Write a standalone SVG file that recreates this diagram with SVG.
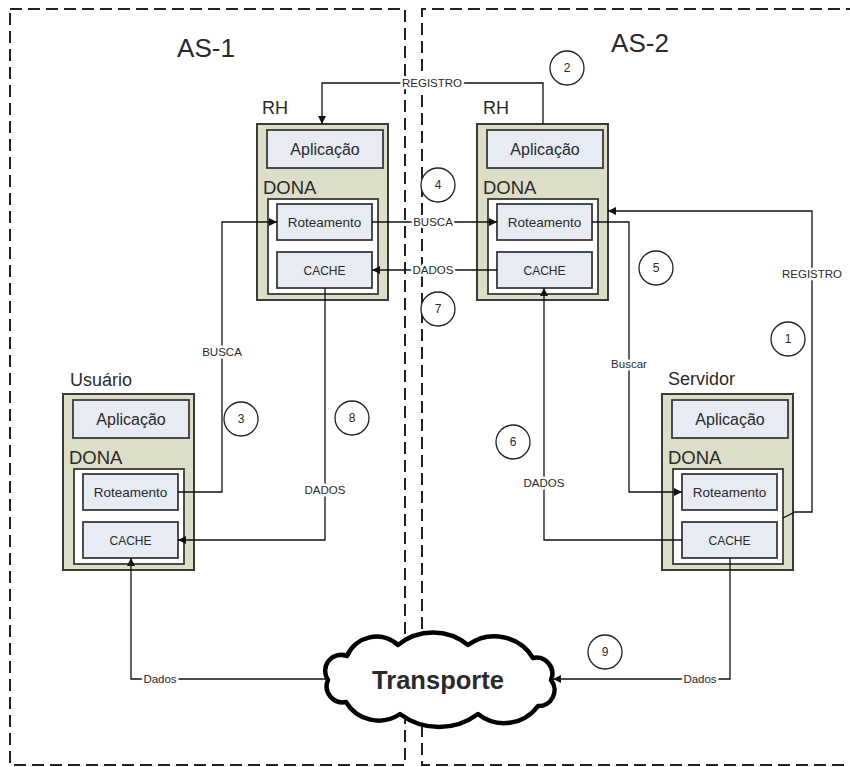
<svg xmlns="http://www.w3.org/2000/svg" width="850" height="767" viewBox="0 0 850 767">
  <defs>
    <marker id="arrow" viewBox="0 0 10 10" refX="10" refY="5" markerWidth="9" markerHeight="8" markerUnits="userSpaceOnUse" orient="auto">
      <path d="M0,0 L10,5 L0,10 z" fill="#111"/>
    </marker>
    <!-- reusable host stack: Aplicação + DONA (Roteamento, CACHE) -->
    <g id="host">
      <rect class="outer" x="0" y="0" width="131" height="176"/>
      <rect class="box" x="10" y="6" width="116" height="38"/>
      <text class="app" x="68" y="30.5">Aplicação</text>
      <text class="dona" x="6" y="70">DONA</text>
      <rect class="inner" x="11" y="75" width="110" height="95"/>
      <rect class="box" x="20" y="80" width="95" height="36"/>
      <text class="rot" x="67.5" y="102.5">Roteamento</text>
      <rect class="box" x="20" y="128" width="95" height="36"/>
      <text class="cache" x="67.5" y="150.5">CACHE</text>
    </g>
  </defs>
  <style>
    text { font-family: "Liberation Sans", Arial, sans-serif; fill: #2a2a2a; }
    .outer { fill: #dcdec8; stroke: #3a3a3a; stroke-width: 2; }
    .inner { fill: #ffffff; stroke: #3a3a3a; stroke-width: 1.8; }
    .box { fill: #e6ebf4; stroke: #3a3a3a; stroke-width: 1.8; }
    .app { font-size: 16px; text-anchor: middle; }
    .dona { font-size: 18.5px; }
    .rot { font-size: 13.5px; text-anchor: middle; }
    .cache { font-size: 12px; text-anchor: middle; }
    .name { font-size: 18px; }
    .as { font-size: 26px; text-anchor: middle; }
    .zone { fill: none; stroke: #222; stroke-width: 2; stroke-dasharray: 12 6; }
    .wire { fill: none; stroke: #111; stroke-width: 1.3; }
    .lbl { font-size: 11.5px; text-anchor: middle; dominant-baseline: central; stroke: #fff; stroke-width: 5; paint-order: stroke; stroke-linejoin: round; }
    .step circle { fill: #fff; stroke: #222; stroke-width: 1.3; }
    .step text { font-size: 12px; text-anchor: middle; dominant-baseline: central; }
  </style>

  <rect width="850" height="767" fill="#fff"/>

  <!-- autonomous systems -->
  <g id="zones">
    <rect class="zone" x="10" y="9" width="395" height="756"/>
    <path class="zone" d="M858 9 H422 V765 H858"/>
    <text class="as" x="206" y="57">AS-1</text>
    <text class="as" x="640" y="52">AS-2</text>
  </g>

  <!-- nodes -->
  <g id="rh-as1">
    <text class="name" x="262" y="114">RH</text>
    <use href="#host" x="257" y="124"/>
  </g>
  <g id="rh-as2">
    <text class="name" x="483" y="114">RH</text>
    <use href="#host" x="477" y="124"/>
  </g>
  <g id="usuario">
    <text class="name" x="70" y="386">Usuário</text>
    <use href="#host" x="63" y="394"/>
  </g>
  <g id="servidor">
    <text class="name" x="668" y="385">Servidor</text>
    <use href="#host" x="662" y="394"/>
  </g>

  <g id="transporte">
    <path d="M328 680 A16 16 0 0 1 347 656 A32 32 0 0 1 398 645 A55 55 0 0 1 468 645 A45 45 0 0 1 533 658 A16 16 0 0 1 551 680 A16 16 0 0 1 538 706 A42 42 0 0 1 478 714 A65 65 0 0 1 400 714 A38 38 0 0 1 346 702 A16 16 0 0 1 328 680 Z" fill="#fff" stroke="#000" stroke-width="4.5" stroke-linejoin="round"/>
    <text x="438" y="689" font-size="25.5" font-weight="bold" text-anchor="middle" fill="#111">Transporte</text>
  </g>

  <!-- connectors -->
  <g id="connectors">
    <path class="wire" d="M543 124 V83 H322 V124" marker-end="url(#arrow)"/>
    <text class="lbl" x="432" y="83">REGISTRO</text>

    <path class="wire" d="M372 222 H497" marker-end="url(#arrow)"/>
    <text class="lbl" x="433" y="222">BUSCA</text>

    <path class="wire" d="M497 270 H372" marker-end="url(#arrow)"/>
    <text class="lbl" x="433" y="270">DADOS</text>

    <path class="wire" d="M783 518 L795 512 H812 V211 H608" marker-end="url(#arrow)"/>
    <text class="lbl" x="812" y="274">REGISTRO</text>

    <path class="wire" d="M592 222 H629 V492 H682" marker-end="url(#arrow)"/>
    <text class="lbl" x="629" y="364">Buscar</text>

    <path class="wire" d="M682 540 H544 V288" marker-end="url(#arrow)"/>
    <text class="lbl" x="544" y="483">DADOS</text>

    <path class="wire" d="M178 492 H222 V222 H277" marker-end="url(#arrow)"/>
    <text class="lbl" x="222" y="352">BUSCA</text>

    <path class="wire" d="M325 288 V540 H178" marker-end="url(#arrow)"/>
    <text class="lbl" x="325" y="490">DADOS</text>

    <path class="wire" d="M328 679 H131 V558" marker-end="url(#arrow)"/>
    <text class="lbl" x="160" y="679">Dados</text>

    <path class="wire" d="M730 558 V679 H553" marker-end="url(#arrow)"/>
    <text class="lbl" x="700" y="679">Dados</text>
  </g>

  <!-- step numbers -->
  <g class="step" id="step-1"><circle cx="788" cy="339" r="17"/><text x="788" y="339">1</text></g>
  <g class="step" id="step-2"><circle cx="567" cy="68" r="17"/><text x="567" y="68">2</text></g>
  <g class="step" id="step-3"><circle cx="241" cy="419" r="17"/><text x="241" y="419">3</text></g>
  <g class="step" id="step-4"><circle cx="438" cy="185" r="17"/><text x="438" y="185">4</text></g>
  <g class="step" id="step-5"><circle cx="656" cy="268" r="17"/><text x="656" y="268">5</text></g>
  <g class="step" id="step-6"><circle cx="513" cy="442" r="17"/><text x="513" y="442">6</text></g>
  <g class="step" id="step-7"><circle cx="438" cy="309" r="17"/><text x="438" y="309">7</text></g>
  <g class="step" id="step-8"><circle cx="352" cy="418" r="17"/><text x="352" y="418">8</text></g>
  <g class="step" id="step-9"><circle cx="605" cy="652" r="17"/><text x="605" y="652">9</text></g>
</svg>
